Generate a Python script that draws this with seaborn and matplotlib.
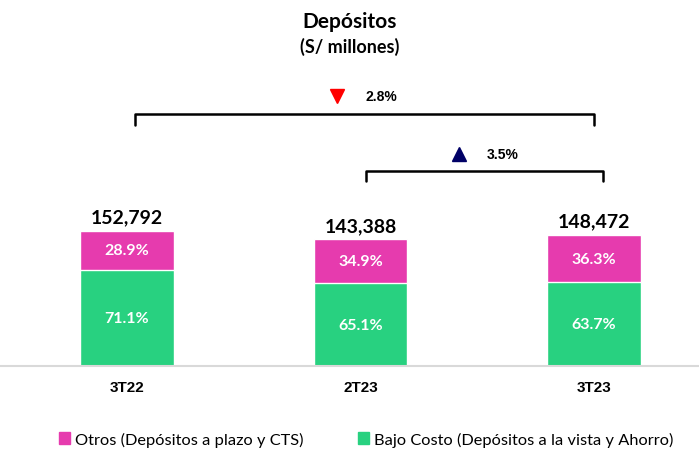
import pandas as pd
import seaborn as sns
import matplotlib.pyplot as plt
from matplotlib.patches import Patch

# data
periods = ['3T22', '2T23', '3T23']
totals = [152792, 143388, 148472]
otros_pct = [28.9, 34.9, 36.3]
bajo_pct = [71.1, 65.1, 63.7]
var_labels = ['2.8%', '3.5%']   # 3T22 -> 3T23 (down), 2T23 -> 3T23 (up)

pink = '#E63BAE'
green = '#28D180'

df = pd.DataFrame({'periodo': periods, 'total': totals,
                   'otros': otros_pct, 'bajo': bajo_pct})
df['bajo_abs'] = df['total'] * df['bajo'] / 100

sns.set_theme(style='white')
plt.rcParams['font.family'] = ['Lato', 'DejaVu Sans']
plt.rcParams['text.color'] = 'black'
plt.rcParams['xtick.color'] = 'black'

fig = plt.figure(figsize=(6.99, 4.52), dpi=100)
ax = fig.add_axes([0, 85 / 452, 1, 367 / 452])

# total bar in pink, bajo costo in green on top of it from the base
sns.barplot(data=df, x='periodo', y='total', color=pink, saturation=1,
            width=0.40, ax=ax)
sns.barplot(data=df, x='periodo', y='bajo_abs', color=green, saturation=1,
            width=0.40, ax=ax)

ymax = 415000
ax.set_ylim(0, ymax)
ax.set_xlim(-0.544, 2.45)
for s in ['top', 'right', 'left']:
    ax.spines[s].set_visible(False)
ax.spines['bottom'].set_color('#d9d9d9')
ax.spines['bottom'].set_linewidth(1.5)
ax.set_yticks([])
ax.set_xlabel('')
ax.set_ylabel('')
ax.tick_params(axis='x', length=0, pad=10)
ax.set_xticks(range(len(periods)))
ax.set_xticklabels(periods, fontsize=11, fontweight='bold',
                   family='Liberation Sans')

for i, row in df.iterrows():
    ax.text(i, row['total'] + 6000, f"{row['total']:,.0f}", ha='center',
            va='bottom', fontsize=14, fontweight='bold')
    ax.text(i, (row['bajo_abs'] + row['total']) / 2, f"{row['otros']:.1f}%",
            ha='center', va='center', fontsize=11.5, fontweight='bold', color='white')
    ax.text(i, row['bajo_abs'] / 2, f"{row['bajo']:.1f}%",
            ha='center', va='center', fontsize=11.5, fontweight='bold', color='white')


def bracket(x0, x1, y, h):
    ax.plot([x0, x0, x1, x1], [y - h, y, y, y - h], color='black', lw=1.8,
            solid_joinstyle='round', solid_capstyle='round')


bracket(0.034, 2.0, 285000, 12000)
bracket(1.024, 2.04, 221000, 12000)

ax.plot(0.90, 305000, marker='v', color='#FF0000', markersize=10, ls='none')
ax.text(1.02, 305000, var_labels[0], ha='left', va='center', fontsize=10,
        fontweight='bold', family='Liberation Sans')
ax.plot(1.42, 240000, marker='^', color='#000066', markersize=10, ls='none')
ax.text(1.54, 240000, var_labels[1], ha='left', va='center', fontsize=10,
        fontweight='bold', family='Liberation Sans')

fig.text(0.5, 1 - 22 / 452, 'Depósitos', ha='center', va='center',
         fontsize=15, fontweight='bold')
fig.text(0.5, 1 - 47 / 452, '(S/ millones)', ha='center', va='center',
         fontsize=13, fontweight='bold')

handles = [Patch(color=pink), Patch(color=green)]
labels = ['Otros (Depósitos a plazo y CTS)',
          'Bajo Costo (Depósitos a la vista y Ahorro)']
fig.legend(handles, labels, loc='center', bbox_to_anchor=(0.524, 1 - 440 / 452),
           ncol=2, frameon=False, fontsize=11.8, handlelength=0.7,
           handleheight=0.7, handletextpad=0.3, columnspacing=3.3)

fig.savefig('out.png', dpi=100)
